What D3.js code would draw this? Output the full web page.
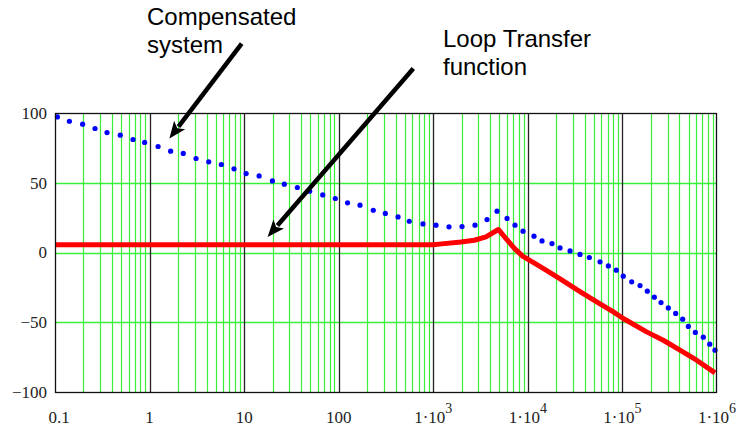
<!DOCTYPE html>
<html>
<head>
<meta charset="utf-8">
<script src="https://cdn.jsdelivr.net/npm/d3@7"></script>
<style>
  html, body { margin: 0; padding: 0; background: #fff; }
  svg { display: block; }
</style>
</head>
<body>
<svg id="chart" width="741" height="433"></svg>
<script>
// ---- Data ----
const xDecades = [0.1, 1, 10, 100, 1e3, 1e4, 1e5, 1e6];
const xTickMain = ["0.1", "1", "10", "100", "1\u00B710", "1\u00B710", "1\u00B710", "1\u00B710"];
const xTickExp = ["", "", "", "", "3", "4", "5", "6"];
const yTicks = [-100, -50, 0, 50, 100];
const yTickLabels = ["\u2212100", "\u221250", "0", "50", "100"];

// Compensated system (blue dotted)
const freqBlue = [0.106,0.142,0.196,0.265,0.355,0.49,0.668,0.887,1.23,1.67,2.27,3.10,4.22,5.74,7.81,10.5,14.4,19.9,26.6,36.5,49.3,67.8,92,124,168,232,311,424,557,778,1069,1466,2014,2761,3700,4720,6025,7313,8890,11610,14120,17990,21880,27930,35570,44670,57940,70960,86100,102100,125300,153500,183300,217300,255900,305500,365600,433600,497700,590200,716100,837600,952600];
const valBlue = [97.2,94.1,92,88.9,86,84.1,81,78.9,76,72.6,71,67.4,65,63.1,60,56.6,54.9,51.3,49,46.6,43.9,41.3,38.7,35.6,33.9,30.3,28,25.5,22.4,20.5,19.6,18.4,18.6,19.6,23.6,29.6,24.4,19.6,15.3,11.7,8.3,6.4,3.3,1.1,-1.4,-3.6,-6.7,-9.6,-12.7,-17,-21,-23.7,-27.7,-32,-35.9,-39.7,-43.7,-47.8,-53,-57.3,-60.7,-65.7,-70];

// Loop transfer function (red solid)
const freqRed = [0.1,1000,1157,1963,2716,3610,4877,5875,7196,8810,11150,15560,21510,35570,53460,80170,102000,180300,270400,406000,609000,952600];
const valRed = [5.5,5.5,6,7.6,8.8,11.2,16.5,10,3,-2.6,-6.7,-12.7,-18.6,-28,-35.4,-42.6,-47.3,-56.9,-62.9,-70,-77.2,-86.3];

// Annotations: [text lines], tail (freq, value), tip (freq, value)
const annotations = [
  { lines: ["Compensated", "system"], tx: 147, ty: 25, tail: [9.42, 149.8], tip: [1.62, 81.7] },
  { lines: ["Loop Transfer", "function"], tx: 443, ty: 47, tail: [615, 131.9], tip: [17.7, 11.2] }
];

// ---- Layout ----
const svg = d3.select("#chart");
const L = 55, R = 717, T = 113, B = 392;
const x = d3.scaleLog().domain([0.1, 1e6]).range([L, R]);
const y = d3.scaleLinear().domain([-100, 100]).range([B, T]);

const grid = svg.append("g");
// minor vertical grid (green)
const minors = [];
for (let d = 0; d < xDecades.length - 1; d++) {
  for (let m = 2; m <= 9; m++) minors.push(xDecades[d] * m);
}
grid.selectAll("line.minor").data(minors).join("line")
  .attr("x1", d => Math.round(x(d)) + 0.5).attr("x2", d => Math.round(x(d)) + 0.5)
  .attr("y1", T).attr("y2", B)
  .attr("stroke", "#38f038").attr("stroke-width", 1.2);
// horizontal grid
grid.selectAll("line.h").data([-50, 0, 50]).join("line")
  .attr("x1", L).attr("x2", R)
  .attr("y1", d => Math.round(y(d)) + 0.5).attr("y2", d => Math.round(y(d)) + 0.5)
  .attr("stroke", "#38f038").attr("stroke-width", 1.5);
// decade lines
grid.selectAll("line.dec").data(xDecades.slice(1, -1)).join("line")
  .attr("x1", d => Math.round(x(d)) + 0.5).attr("x2", d => Math.round(x(d)) + 0.5)
  .attr("y1", T).attr("y2", B)
  .attr("stroke", "#222").attr("stroke-width", 1.3);

// Red line
svg.append("path")
  .datum(freqRed.map((f, i) => [f, valRed[i]]))
  .attr("d", d3.line().x(d => x(d[0])).y(d => y(d[1])))
  .attr("fill", "none").attr("stroke", "#ff0000").attr("stroke-width", 5)
  .attr("stroke-linejoin", "round");

// Blue dots
svg.append("g").selectAll("circle").data(freqBlue.map((f, i) => [f, valBlue[i]])).join("circle")
  .attr("cx", d => x(d[0])).attr("cy", d => y(d[1])).attr("r", 2.6)
  .attr("fill", "#0000ff");

// Border
svg.append("rect").attr("x", L + 0.5).attr("y", T + 0.5).attr("width", R - L - 1).attr("height", B - T)
  .attr("fill", "none").attr("stroke", "#111").attr("stroke-width", 1.3);

// Y tick labels
svg.append("g").selectAll("text").data(yTicks).join("text")
  .attr("x", 47).attr("y", d => y(d)).attr("dy", "0.35em")
  .attr("text-anchor", "end")
  .attr("font-family", "'Liberation Serif', 'Times New Roman', serif").attr("font-size", 17)
  .attr("fill", "#222")
  .text((d, i) => yTickLabels[i]);

// X tick labels
const xl = svg.append("g");
xDecades.forEach((d, i) => {
  const t = xl.append("text")
    .attr("x", i === 0 ? x(d) + 4 : x(d)).attr("y", 423)
    .attr("text-anchor", "middle")
    .attr("font-family", "'Liberation Serif', 'Times New Roman', serif").attr("font-size", 17)
    .attr("fill", "#222");
  t.append("tspan").text(xTickMain[i]);
  if (xTickExp[i]) {
    t.append("tspan").attr("dy", -10).attr("font-size", 14).text(xTickExp[i]);
  }
});

// Annotations
const ann = svg.append("g");
annotations.forEach(a => {
  const txt = ann.append("text")
    .attr("font-family", "'Liberation Sans', Arial, sans-serif").attr("font-size", 24)
    .attr("fill", "#000");
  a.lines.forEach((ln, k) => {
    txt.append("tspan").attr("x", a.tx).attr("y", a.ty + k * 28).text(ln);
  });
  const x0 = x(a.tail[0]), y0 = y(a.tail[1]);
  const x1 = x(a.tip[0]), y1 = y(a.tip[1]);
  const dx = x1 - x0, dy = y1 - y0, len = Math.hypot(dx, dy);
  const ux = dx / len, uy = dy / len;
  const hl = 17, hw = 7;
  const bx = x1 - ux * hl, by = y1 - uy * hl;
  ann.append("line").attr("x1", x0).attr("y1", y0).attr("x2", bx + ux * 2).attr("y2", by + uy * 2)
    .attr("stroke", "#000").attr("stroke-width", 4.5);
  ann.append("path")
    .attr("d", `M${x1},${y1}L${bx - uy * hw},${by + ux * hw}L${bx + ux * 4},${by + uy * 4}L${bx + uy * hw},${by - ux * hw}Z`)
    .attr("fill", "#000");
});
</script>
</body>
</html>
